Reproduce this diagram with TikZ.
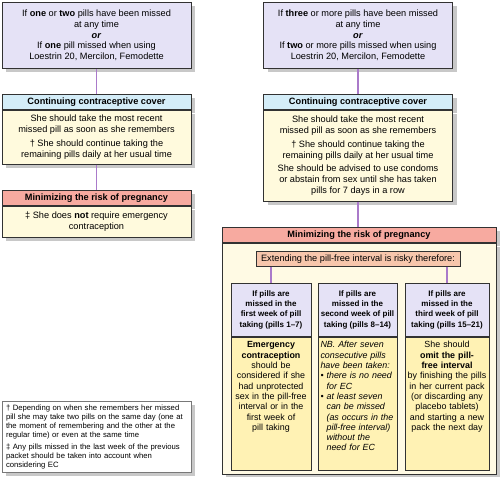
\documentclass[tikz,border=0pt]{standalone}
\usepackage{fontspec}
\setmainfont{Liberation Sans}
\usetikzlibrary{shadows}

\definecolor{edge}{RGB}{50,50,50}
\definecolor{shade}{RGB}{200,200,200}
\definecolor{lilac}{RGB}{229,226,246}
\definecolor{skyhead}{RGB}{212,237,248}
\definecolor{rosehead}{RGB}{247,170,160}
\definecolor{cream}{RGB}{255,250,221}
\definecolor{paper}{RGB}{255,250,228}
\definecolor{peach}{RGB}{247,198,172}
\definecolor{butter}{RGB}{255,242,180}
\definecolor{linkpurple}{RGB}{170,122,202}
\definecolor{noteedge}{RGB}{120,120,120}

\tikzset{
  box/.style={draw=edge, line width=0.8pt, inner sep=0pt, align=center, anchor=north,
    general shadow={fill=shade, shadow xshift=4pt, shadow yshift=-4pt}},
  mainfont/.style={font=\fontsize{9.2}{10.8}\selectfont},
  askbox/.style={box, mainfont, fill=lilac, minimum width=189pt, minimum height=66pt},
  headbox/.style={box, font=\fontsize{9.2}{10.8}\selectfont\bfseries, minimum width=189pt, minimum height=15pt},
  coverhead/.style={headbox, fill=skyhead},
  riskhead/.style={headbox, fill=rosehead},
  bodybox/.style={box, mainfont, fill=cream, minimum width=189pt},
  weekhead/.style={draw=edge, line width=0.6pt, fill=lilac, anchor=north, align=center, inner sep=0pt,
    minimum height=53pt, font=\fontsize{8}{10.2}\selectfont\bfseries},
  weekbody/.style={draw=edge, line width=0.6pt, fill=butter, anchor=north, inner xsep=2pt, inner ysep=4pt,
    text height=7pt, text depth=118pt, font=\fontsize{8.9}{10.3}\selectfont},
  link/.style={draw=linkpurple, line width=1.6pt},
}

\begin{document}
\begin{tikzpicture}[x=1pt, y=-1pt]
  \useasboundingbox (0,0) rectangle (500,476);

  % left column
  \node[askbox] (askL) at (96.5,2) {If \textbf{one} or \textbf{two} pills have been missed\\at any time\\\textbf{\textit{or}}\\If \textbf{one} pill missed when using\\Loestrin 20, Mercilon, Femodette};
  \node[coverhead] (coverLh) at (96.5,94) {Continuing contraceptive cover};
  \node[bodybox, minimum height=54pt] (coverLb) at (coverLh.south) {She should take the most recent\\missed pill as soon as she remembers\\[3pt]† She should continue taking the\\remaining pills daily at her usual time};
  \node[riskhead] (riskLh) at (96.5,190) {Minimizing the risk of pregnancy};
  \node[bodybox, minimum height=31pt] (riskLb) at (riskLh.south) {‡ She does \textbf{not} require emergency\\contraception};

  % right column
  \node[askbox] (askR) at (358,2) {If \textbf{three} or more pills have been missed\\at any time\\\textbf{\textit{or}}\\If \textbf{two} or more pills missed when using\\Loestrin 20, Mercilon, Femodette};
  \node[coverhead] (coverRh) at (358,94) {Continuing contraceptive cover};
  \node[bodybox, minimum height=91pt] (coverRb) at (coverRh.south) {She should take the most recent\\missed pill as soon as she remembers\\[3pt]† She should continue taking the\\remaining pills daily at her usual time\\[3pt]She should be advised to use condoms\\or abstain from sex until she has taken\\pills for 7 days in a row};
  \node[riskhead, minimum width=274pt] (riskRh) at (359,227) {Minimizing the risk of pregnancy};
  \node[box, fill=paper, minimum width=274pt, minimum height=231pt] (riskRb) at (riskRh.south) {};
  \node[draw=edge, line width=0.6pt, fill=peach, anchor=north, inner sep=0pt, minimum width=204pt,
    minimum height=15pt, font=\fontsize{9.2}{10.8}\selectfont] (extend) at (358,251) {Extending the pill-free interval is risky therefore:};

  % three weeks
  \node[weekhead, minimum width=80pt] (week1h) at (271,283) {If pills are\\missed in the\\first week of pill\\taking (pills 1–7)};
  \node[weekbody, text width=76pt, align=center] (week1b) at (week1h.south) {\textbf{Emergency}\\\textbf{contraception}\\should be\\considered if she\\had unprotected\\sex in the pill-free\\interval or in the\\first week of\\pill taking};
  \node[weekhead, minimum width=79pt] (week2h) at (357.5,283) {If pills are\\missed in the\\second week of pill\\taking (pills 8–14)};
  \node[weekbody, text width=74pt, inner xsep=2.5pt, align=left] (week2b) at (week2h.south) {\itshape NB. After seven\\consecutive pills\\have been taken:\\• there is no need\\\hphantom{• }for EC\\• at least seven\\\hphantom{• }can be missed\\\hphantom{• }(as occurs in the\\\hphantom{• }pill-free interval)\\\hphantom{• }without the\\\hphantom{• }need for EC};
  \node[weekhead, minimum width=84pt] (week3h) at (447,283) {If pills are\\missed in the\\third week of pill\\taking (pills 15–21)};
  \node[weekbody, text width=80pt, align=center] (week3b) at (week3h.south) {She should\\\textbf{omit the pill-}\\\textbf{free interval}\\by finishing the pills\\in her current pack\\(or discarding any\\placebo tablets)\\and starting a new\\pack the next day};

  % footnotes
  \node[box, draw=noteedge, fill=white, minimum width=189pt, minimum height=71pt, text width=181pt,
    inner xsep=4pt, align=left, font=\fontsize{7.7}{9}\selectfont] (notes) at (96.5,401) {† Depending on when she remembers her missed\\pill she may take two pills on the same day (one at\\the moment of remembering and the other at the\\regular time) or even at the same time\\[3pt]‡ Any pills missed in the last week of the previous\\packet should be taken into account when\\considering EC};

  % connectors
  \draw[link] (askL.south) -- (coverLh.north);
  \draw[link] (coverLb.south) -- (riskLh.north);
  \draw[link] (askR.south) -- (coverRh.north);
  \draw[link] (coverRb.south) -- (riskRh.north -| coverRb.south);
  \draw[link] (extend.south -| week1h.north) -- (week1h.north);
  \draw[link] (extend.south -| week3h.north) -- (week3h.north);
\end{tikzpicture}
\end{document}
